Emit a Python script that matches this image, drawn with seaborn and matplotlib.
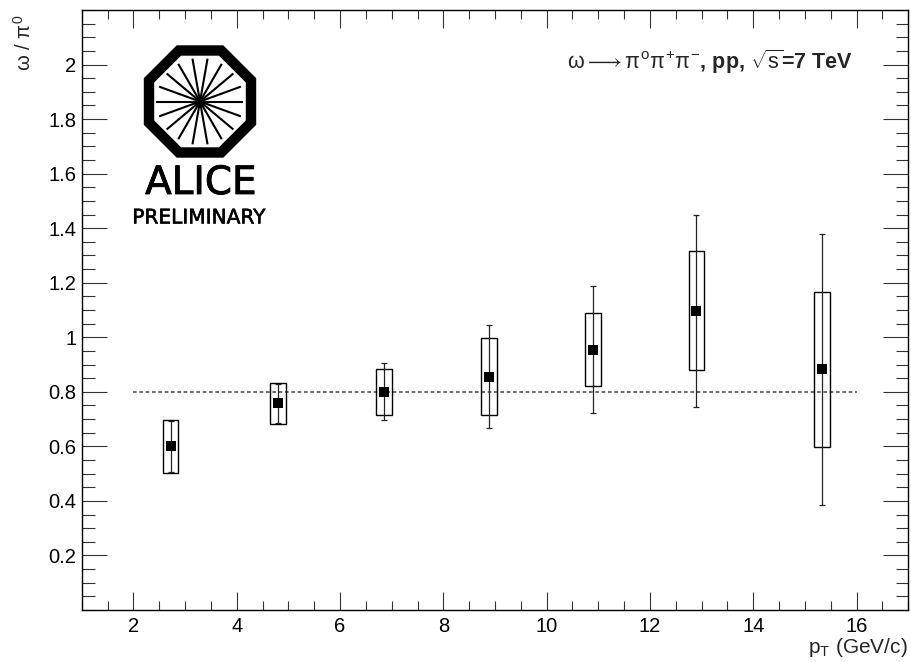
import numpy as np
import pandas as pd
import matplotlib
matplotlib.use("Agg")
import matplotlib.pyplot as plt
import matplotlib.patheffects as pe
from matplotlib.patches import Rectangle, RegularPolygon
from matplotlib.ticker import MultipleLocator
import seaborn as sns

# omega / pi0 ratio in pp at sqrt(s) = 7 TeV
pt = [2.72, 4.80, 6.85, 8.88, 10.90, 12.90, 15.33]
ratio = [0.600, 0.758, 0.800, 0.856, 0.955, 1.097, 0.882]
stat_err = [0.093, 0.072, 0.104, 0.190, 0.232, 0.352, 0.496]
sys_err = [0.098, 0.075, 0.085, 0.140, 0.133, 0.218, 0.283]
reference_level = 0.8
x_ticks = [2, 4, 6, 8, 10, 12, 14, 16]
y_ticks = [0.2, 0.4, 0.6, 0.8, 1.0, 1.2, 1.4, 1.6, 1.8, 2.0]
y_tick_labels = ["0.2", "0.4", "0.6", "0.8", "1", "1.2", "1.4", "1.6", "1.8", "2"]

df = pd.DataFrame({"pt": pt, "ratio": ratio, "stat": stat_err, "sys": sys_err})

sns.set_theme(style="ticks")
plt.rcParams["font.family"] = ["Liberation Sans", "DejaVu Sans"]
plt.rcParams["mathtext.fontset"] = "custom"
plt.rcParams["mathtext.rm"] = "Liberation Sans"
plt.rcParams["mathtext.it"] = "Liberation Sans"
plt.rcParams["mathtext.bf"] = "Liberation Sans:bold"

W, H = 912, 662
fig = plt.figure(figsize=(W / 100, H / 100), dpi=100)
fig.patch.set_facecolor("white")
ax = fig.add_axes([81.7 / W, 52 / H, 826.6 / W, 600 / H])
ax.set_facecolor("white")

# systematic uncertainty boxes
box_w = 0.3
for x, y, s in zip(df["pt"], df["ratio"], df["sys"]):
    ax.add_patch(Rectangle((x - box_w / 2, y - s), box_w, 2 * s,
                           fill=False, edgecolor="black", lw=1.0, zorder=2))

# statistical error bars
ax.errorbar(df["pt"], df["ratio"], yerr=df["stat"], fmt="none",
            ecolor="#222222", elinewidth=0.9, capsize=2.5, capthick=0.9, zorder=3)

# data points
sns.scatterplot(data=df, x="pt", y="ratio", marker="s", s=48, color="black",
                linewidth=0, ax=ax, zorder=4, legend=False)

# reference line
ax.hlines(reference_level, 2, 16, colors="#555555", linestyles=(0, (2.2, 1.6)),
          lw=1.2, zorder=1)

ax.set_xlim(1, 17)
ax.set_ylim(0, 2.2)
ax.set_xticks(x_ticks)
ax.set_xticklabels([str(t) for t in x_ticks])
ax.set_yticks(y_ticks)
ax.set_yticklabels(y_tick_labels)
ax.xaxis.set_minor_locator(MultipleLocator(0.5))
ax.yaxis.set_minor_locator(MultipleLocator(0.05))
ax.set_xlabel("")
ax.set_ylabel("")

for sp in ax.spines.values():
    sp.set_visible(True)
    sp.set_linewidth(1.0)
    sp.set_color("black")

ax.tick_params(which="both", direction="in", top=True, right=True,
               color="#333333", width=0.8, labelsize=14.5, labelcolor="black")
ax.tick_params(axis="x", which="major", length=13, pad=5)
ax.tick_params(axis="x", which="minor", length=6.5)
ax.tick_params(axis="y", which="major", length=18, pad=4)
ax.tick_params(axis="y", which="minor", length=9)

# axis titles
fig.text(908 / W, 1 - 653 / H, r"p$_{\mathregular{T}}$ (GeV/c)", ha="right",
         va="baseline", fontsize=15)
fig.text(24 / W, 1 - 14 / H, r"$\omega$ / $\pi^{0}$", rotation=90, ha="center",
         va="top", fontsize=14.5)

# process label
ax.text((853 - 81.7) / 826.6, (610 - 62) / 600,
        r"$\omega\longrightarrow\pi^{o}\pi^{+}\pi^{-}$, pp, $\sqrt{s}$=7 TeV",
        transform=ax.transAxes, ha="right", va="center", fontsize=15.5,
        fontweight="bold")

# ALICE logo
cx, cy = 200, 101.5
fy = 1 - cy / H
apothem = 51
oct_patch = RegularPolygon((cx, H - cy), numVertices=8,
                           radius=apothem / np.cos(np.pi / 8),
                           orientation=np.pi / 8, fill=False,
                           edgecolor="black", lw=7.5,
                           transform=None, zorder=10)
fig.add_artist(oct_patch)
for ang in np.deg2rad(np.arange(0, 360, 20)):
    r0, r1 = 0.5, 43.5
    fig.add_artist(plt.Line2D(
        [(cx + r0 * np.cos(ang)) / W, (cx + r1 * np.cos(ang)) / W],
        [fy + r0 * np.sin(ang) / H, fy + r1 * np.sin(ang) / H],
        transform=fig.transFigure, color="black", lw=1.5,
        solid_capstyle="butt", zorder=10))
fig.text(201 / W, 1 - 183 / H, "ALICE", ha="center", va="center",
         fontsize=28, family="DejaVu Sans", color="black",
         path_effects=[pe.withStroke(linewidth=0.6, foreground="black")])
fig.text(199 / W, 1 - 218 / H, "PRELIMINARY", ha="center", va="center",
         fontsize=14.5, family="DejaVu Sans", color="black",
         path_effects=[pe.withStroke(linewidth=0.4, foreground="black")])

fig.savefig("out.png", dpi=100, facecolor="white")
